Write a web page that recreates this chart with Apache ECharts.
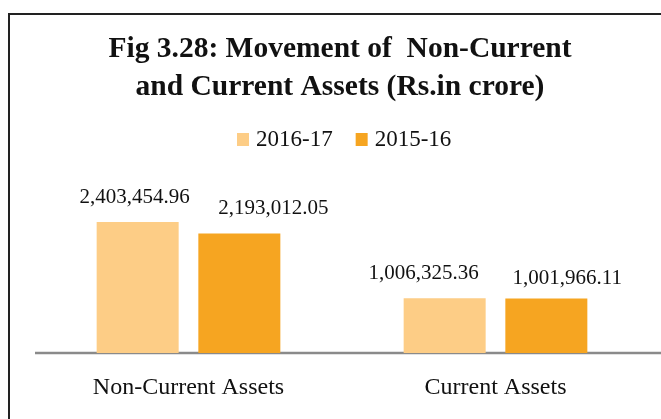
<!DOCTYPE html>
<html>
<head>
<meta charset="utf-8">
<script src="https://cdn.jsdelivr.net/npm/echarts@6/dist/echarts.min.js"></script>
<style>
  html, body { margin: 0; padding: 0; background: #fff; }
  #chart { width: 661px; height: 419px; }
</style>
</head>
<body>
<div id="chart"></div>
<script>
// Asset groups and yearly values (Rs. in crore)
const categories = ['Non-Current Assets', 'Current Assets'];
const seriesNames = ['2016-17', '2015-16'];
const values2016_17 = [2403454.96, 1006325.36];
const values2015_16 = [2193012.05, 1001966.11];

// Hand-placed value label nudges, one per bar in each series
const labelShift2016_17 = [[-3, 0], [-21, 0]];
const labelShift2015_16 = [[34, 0], [21, 5]];

const serifFont = '"Liberation Serif", "Times New Roman", serif';
const colors = ['#FDCD86', '#F6A521'];

function fmt(v) {
  return v.toLocaleString('en-US', { minimumFractionDigits: 2, maximumFractionDigits: 2 });
}

function barData(values, shifts) {
  return values.map((v, i) => ({ value: v, label: { offset: shifts[i] } }));
}

const chart = echarts.init(document.getElementById('chart'), null, { renderer: 'canvas' });

const labelStyle = {
  show: true,
  position: 'top',
  distance: 14,
  fontFamily: serifFont,
  fontSize: 21,
  color: '#111',
  formatter: p => fmt(p.value)
};

chart.setOption({
  backgroundColor: '#fff',
  animation: false,
  title: {
    text: 'Fig 3.28: Movement of  Non-Current\nand Current Assets (Rs.in crore)',
    left: 340,
    top: 30,
    padding: 0,
    textAlign: 'center',
    textStyle: {
      fontFamily: serifFont,
      fontWeight: 'bold',
      fontSize: 29.5,
      lineHeight: 38,
      color: '#111'
    }
  },
  legend: {
    data: seriesNames,
    left: 237,
    top: 128,
    padding: 0,
    itemWidth: 12,
    itemHeight: 13,
    itemGap: 23,
    icon: 'rect',
    textStyle: { fontFamily: serifFont, fontSize: 23, color: '#111', padding: [0, 0, 0, 2] }
  },
  grid: { left: 35, right: 12, top: 189.5, bottom: 66, containLabel: false },
  xAxis: {
    type: 'category',
    data: categories,
    axisLine: { show: false },
    axisTick: { show: false },
    axisLabel: { fontFamily: serifFont, fontSize: 24, color: '#111', margin: 23 }
  },
  yAxis: {
    type: 'value',
    min: 0,
    max: 3000000,
    show: false,
    splitLine: { show: false }
  },
  series: [
    {
      name: seriesNames[0],
      type: 'bar',
      data: barData(values2016_17, labelShift2016_17),
      barWidth: 82,
      barGap: '24%',
      itemStyle: { color: colors[0] },
      label: labelStyle
    },
    {
      name: seriesNames[1],
      type: 'bar',
      data: barData(values2015_16, labelShift2015_16),
      barWidth: 82,
      barGap: '24%',
      itemStyle: { color: colors[1] },
      label: labelStyle
    }
  ],
  graphic: [
    {
      type: 'rect',
      shape: { x: 9, y: 14, width: 700, height: 500 },
      style: { fill: 'none', stroke: '#222', lineWidth: 2 },
      silent: true
    },
    {
      type: 'line',
      shape: { x1: 35, y1: 353, x2: 661, y2: 353 },
      style: { stroke: '#8a8a8a', lineWidth: 2.5 },
      silent: true
    }
  ]
});
</script>
</body>
</html>
